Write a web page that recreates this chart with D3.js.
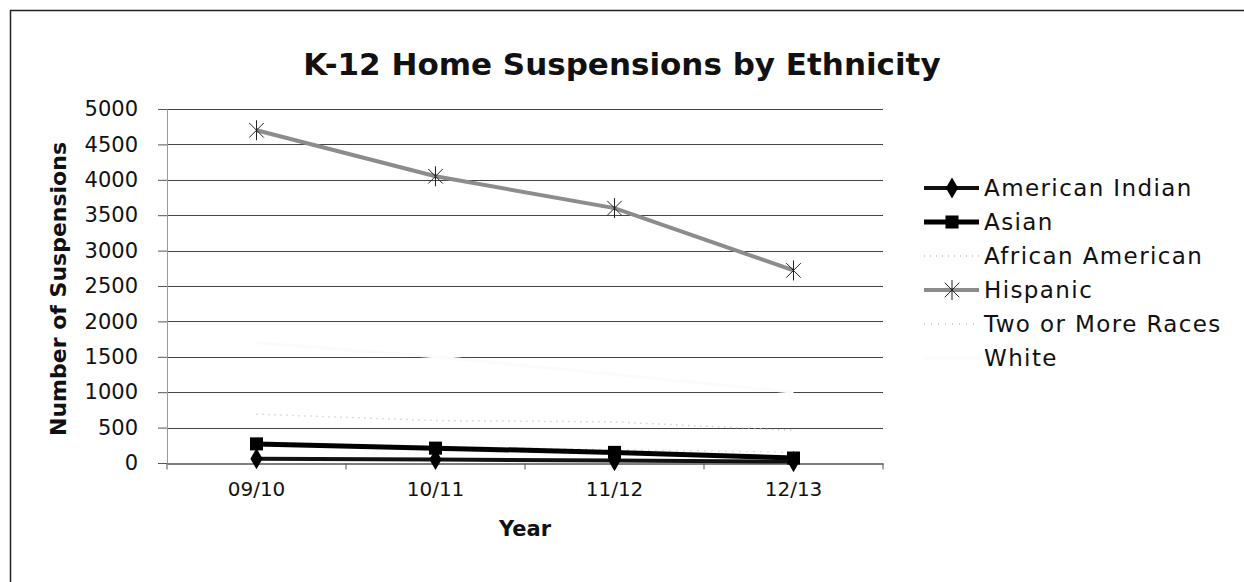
<!DOCTYPE html>
<html>
<head>
<meta charset="utf-8">
<script src="https://cdn.jsdelivr.net/npm/d3@7"></script>
<style>
  body { margin: 0; background: #fff; }
  text { font-family: "DejaVu Sans", sans-serif; fill: #111; }
</style>
</head>
<body>
<div id="chart"></div>
<script>
var years = ["09/10", "10/11", "11/12", "12/13"];
var yTicks = [0, 500, 1000, 1500, 2000, 2500, 3000, 3500, 4000, 4500, 5000];

var americanIndian = [60, 50, 35, 20];
var asian = [270, 210, 150, 70];
var africanAmerican = [690, 600, 580, 460];
var hispanic = [4700, 4050, 3600, 2720];
var twoOrMore = [250, 230, 190, 150];
var white = [1700, 1500, 1250, 1000];

var seriesNames = ["American Indian", "Asian", "African American", "Hispanic", "Two or More Races", "White"];
var seriesValues = [americanIndian, asian, africanAmerican, hispanic, twoOrMore, white];

var styles = {
  "American Indian": { stroke: "#111", width: 4, dash: null, marker: "diamond" },
  "Asian": { stroke: "#000", width: 5, dash: null, marker: "square" },
  "African American": { stroke: "#bdbdbd", width: 1.5, dash: "1,5", marker: null },
  "Hispanic": { stroke: "#8c8c8c", width: 4, dash: null, marker: "star" },
  "Two or More Races": { stroke: "#c4c4c4", width: 1.5, dash: "1,6", marker: null },
  "White": { stroke: "#fbfbfb", width: 3, dash: null, marker: null }
};

var width = 1244, height = 582;
var margin = { top: 109, left: 167, right: 360, bottom: 119 };

var svg = d3.select("#chart").append("svg")
            .attr("width", width)
            .attr("height", height);

svg.append("rect")
   .attr("x", 10.5).attr("y", 10.5)
   .attr("width", width).attr("height", height)
   .attr("fill", "#fff")
   .attr("stroke", "#222")
   .attr("stroke-width", 1.5);

var x = d3.scaleBand()
          .domain(years)
          .range([margin.left, width - margin.right - 1]);

var y = d3.scaleLinear()
          .domain([0, 5000])
          .range([height - margin.bottom, margin.top]);

// gridlines
svg.append("g")
   .selectAll("line")
   .data(yTicks.slice(1))
   .enter().append("line")
   .attr("x1", margin.left)
   .attr("x2", x.range()[1])
   .attr("y1", d => Math.round(y(d)) + 0.5)
   .attr("y2", d => Math.round(y(d)) + 0.5)
   .attr("stroke", "#444")
   .attr("stroke-width", 1.2);

// y axis
var yAxis = svg.append("g")
   .attr("transform", "translate(" + margin.left + ",0)")
   .call(d3.axisLeft(y).tickValues(yTicks).tickFormat(d3.format("d")).tickSize(9).tickPadding(20));
yAxis.select(".domain").attr("stroke", "#999");
yAxis.selectAll(".tick line").attr("stroke", "#555");
yAxis.selectAll("text")
     .style("font-size", "21px")
     .style("font-family", "'DejaVu Sans', sans-serif")
     .attr("fill", "#111");

// x axis
var xAxis = svg.append("g")
   .attr("transform", "translate(0," + (y(0) + 0.5) + ")")
   .call(d3.axisBottom(x).tickSize(0).tickPadding(18));
xAxis.select(".domain").attr("stroke", "#555").attr("stroke-width", 1.5);
xAxis.selectAll("text")
     .style("font-size", "20px")
     .style("font-family", "'DejaVu Sans', sans-serif")
     .attr("fill", "#111");

var bounds = years.map(d => x(d)).concat([x.range()[1]]);
xAxis.selectAll(".bound")
     .data(bounds)
     .enter().append("line")
     .attr("class", "bound")
     .attr("x1", d => d).attr("x2", d => d)
     .attr("y1", 0).attr("y2", 6)
     .attr("stroke", "#555");

// titles
svg.append("text")
   .attr("x", 622).attr("y", 75)
   .attr("text-anchor", "middle")
   .style("font-size", "31px")
   .style("font-weight", "bold")
   .text("K-12 Home Suspensions by Ethnicity");

svg.append("text")
   .attr("transform", "translate(66,289) rotate(-90)")
   .attr("text-anchor", "middle")
   .style("font-size", "22px")
   .style("font-weight", "bold")
   .text("Number of Suspensions");

svg.append("text")
   .attr("x", (x.range()[0] + x.range()[1]) / 2)
   .attr("y", 536)
   .attr("text-anchor", "middle")
   .style("font-size", "21px")
   .style("font-weight", "bold")
   .text("Year");

function drawMarker(g, type, cx, cy) {
  if (type === "diamond") {
    g.append("path")
     .attr("d", d3.symbol().type(d3.symbolDiamond).size(130)())
     .attr("transform", "translate(" + cx + "," + cy + ")")
     .attr("fill", "#000");
  } else if (type === "square") {
    g.append("path")
     .attr("d", d3.symbol().type(d3.symbolSquare).size(170)())
     .attr("transform", "translate(" + cx + "," + cy + ")")
     .attr("fill", "#000");
  } else if (type === "star") {
    g.append("path")
     .attr("d", d3.symbol().type(d3.symbolTimes).size(140)())
     .attr("transform", "translate(" + cx + "," + cy + ")")
     .attr("stroke", "#222").attr("stroke-width", 1).attr("fill", "none");
    g.append("line")
     .attr("x1", cx).attr("x2", cx)
     .attr("y1", cy - 10).attr("y2", cy + 10)
     .attr("stroke", "#222").attr("stroke-width", 1);
  }
}

var line = d3.line()
             .x((d, i) => x(years[i]) + x.bandwidth() / 2)
             .y(d => y(d));

// draw in reverse so first series is on top
var plot = svg.append("g");
seriesNames.slice().reverse().forEach(name => {
  var vals = seriesValues[seriesNames.indexOf(name)];
  var s = styles[name];
  var g = plot.append("g");
  g.append("path")
   .datum(vals)
   .attr("d", line)
   .attr("fill", "none")
   .attr("stroke", s.stroke)
   .attr("stroke-width", s.width)
   .attr("stroke-dasharray", s.dash);
  if (s.marker) {
    vals.forEach((v, i) => drawMarker(g, s.marker, x(years[i]) + x.bandwidth() / 2, y(v)));
  }
});

// legend
var legend = svg.append("g");
seriesNames.forEach((name, i) => {
  var s = styles[name];
  var ly = 188 + i * 34;
  var g = legend.append("g");
  g.append("line")
   .attr("x1", 924).attr("x2", 979)
   .attr("y1", ly).attr("y2", ly)
   .attr("stroke", s.stroke)
   .attr("stroke-width", s.width)
   .attr("stroke-dasharray", s.dash);
  if (s.marker) drawMarker(g, s.marker, 952, ly);
  g.append("text")
   .attr("x", 984).attr("y", ly + 8)
   .style("font-size", "23px")
   .style("letter-spacing", "1.4px")
   .text(name);
});
</script>
</body>
</html>
